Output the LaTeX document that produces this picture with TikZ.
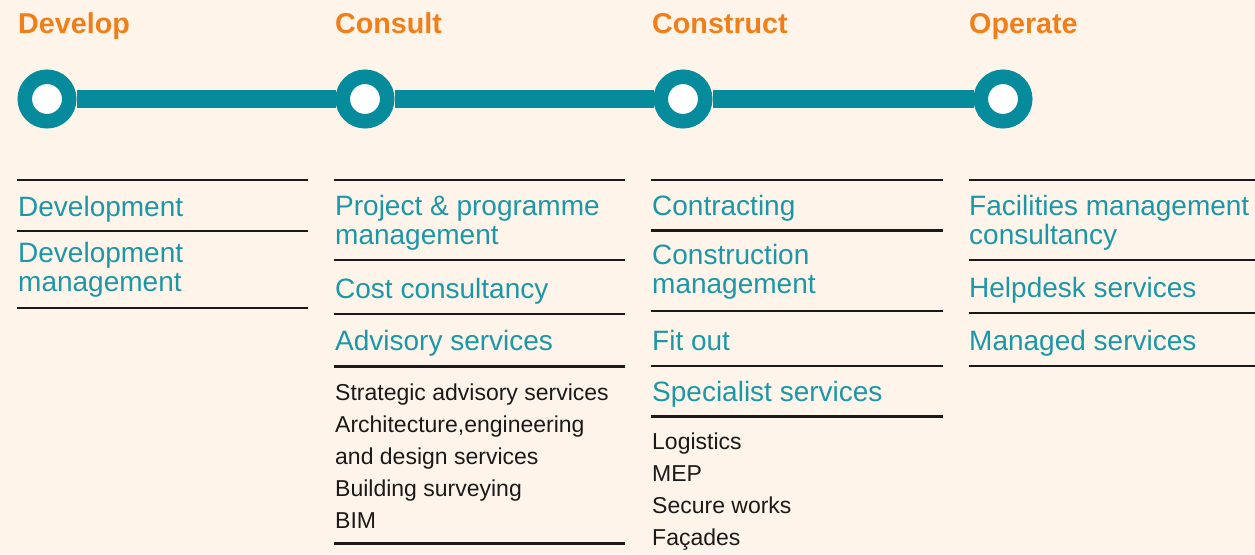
\documentclass[tikz,border=0pt]{standalone}
\usepackage{fontspec}
\setmainfont{Liberation Sans}
\definecolor{bg}{HTML}{FEF4EA}
\definecolor{tealc}{HTML}{058B9B}
\definecolor{tealt}{HTML}{1C97A7}
\definecolor{orangec}{HTML}{F07F1A}
\definecolor{ink}{HTML}{1A1A1A}
\begin{document}
\begin{tikzpicture}[x=1pt,y=-1pt,
  stagehead/.style={anchor=base west, inner sep=0, font=\fontsize{28.7}{28}\selectfont\bfseries, text=orangec},
  itemtext/.style={anchor=base west, inner sep=0, font=\fontsize{28}{29}\selectfont, text=tealt},
  subtext/.style={anchor=base west, inner sep=0, font=\fontsize{23}{32}\selectfont, text=ink},
  hrule/.style={draw=ink, line width=2.6},
  ringnode/.style={circle, draw=tealc, fill=white, line width=14.5, minimum size=44.5, inner sep=0},
  linkline/.style={draw=tealc, line width=18}]
\fill[bg] (0,0) rectangle (1255,554);
\useasboundingbox (0,0) rectangle (1255,554);

% stage headings
\node[stagehead] (hdev) at (18,33) {Develop};
\node[stagehead] (hcon) at (335,33) {Consult};
\node[stagehead] (hcst) at (652,33) {Construct};
\node[stagehead] (hop)  at (969,33) {Operate};

% timeline
\node[ringnode] (c1) at (47,99) {};
\node[ringnode] (c2) at (365,99) {};
\node[ringnode] (c3) at (683,99) {};
\node[ringnode] (c4) at (1003,99) {};
\draw[linkline] (c1) -- (c2);
\draw[linkline] (c2) -- (c3);
\draw[linkline] (c3) -- (c4);

% column 1
\draw[hrule] (17,180) -- (308,180);
\node[itemtext] (a1) at (18,216) {Development};
\draw[hrule] (17,231) -- (308,231);
\node[itemtext] (a2) at (18,262) {Development};
\node[itemtext] (a3) at (18,291.5) {management};
\draw[hrule] (17,308) -- (308,308);

% column 2
\draw[hrule] (334,180) -- (625,180);
\node[itemtext] (b1) at (335,215) {Project \& programme};
\node[itemtext] (b2) at (335,244) {management};
\draw[hrule] (334,260) -- (625,260);
\node[itemtext] (b3) at (335,298) {Cost consultancy};
\draw[hrule] (334,314) -- (625,314);
\node[itemtext] (b4) at (335,350) {Advisory services};
\draw[hrule] (334,366.5) -- (625,366.5);
\node[subtext] (b5) at (335,400) {Strategic advisory services};
\node[subtext] (b6) at (335,432) {Architecture,engineering};
\node[subtext] (b7) at (335,464) {and design services};
\node[subtext] (b8) at (335,496) {Building surveying};
\node[subtext] (b9) at (335,528) {BIM};
\draw[hrule] (334,543.5) -- (625,543.5);

% column 3
\draw[hrule] (651,180) -- (943,180);
\node[itemtext] (d1) at (652,215) {Contracting};
\draw[hrule] (651,230.5) -- (943,230.5);
\node[itemtext] (d2) at (652,264.5) {Construction};
\node[itemtext] (d3) at (652,293.5) {management};
\draw[hrule] (651,311) -- (943,311);
\node[itemtext] (d4) at (652,350) {Fit out};
\draw[hrule] (651,366) -- (943,366);
\node[itemtext] (d5) at (652,401) {Specialist services};
\draw[hrule] (651,416.5) -- (943,416.5);
\node[subtext] (d6) at (652,449) {Logistics};
\node[subtext] (d7) at (652,481) {MEP};
\node[subtext] (d8) at (652,513) {Secure works};
\node[subtext] (d9) at (652,545) {Façades};

% column 4
\draw[hrule] (969,180) -- (1255,180);
\node[itemtext] (e1) at (969,215) {Facilities management};
\node[itemtext] (e2) at (969,244) {consultancy};
\draw[hrule] (969,260) -- (1255,260);
\node[itemtext] (e3) at (969,297.5) {Helpdesk services};
\draw[hrule] (969,313) -- (1255,313);
\node[itemtext] (e4) at (969,350) {Managed services};
\draw[hrule] (969,366) -- (1255,366);
\end{tikzpicture}
\end{document}
